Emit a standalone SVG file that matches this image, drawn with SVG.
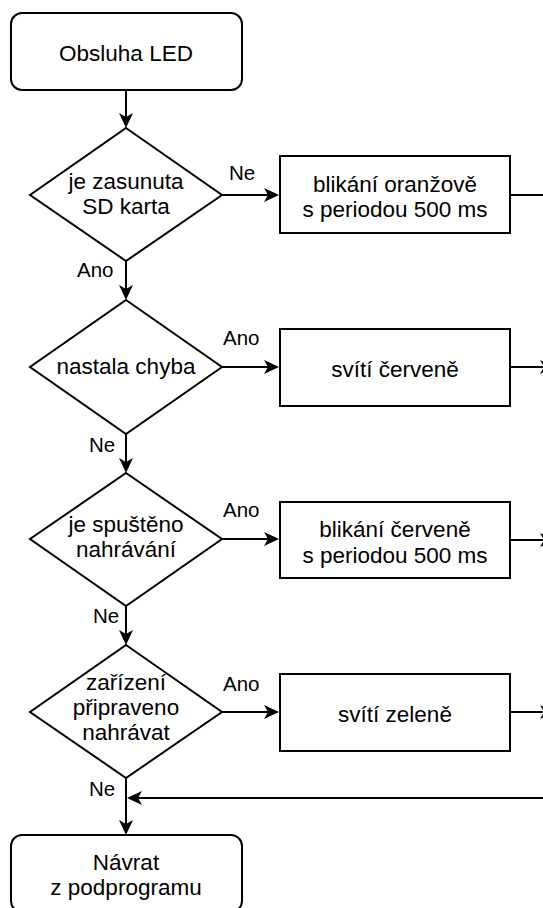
<svg xmlns="http://www.w3.org/2000/svg" width="543" height="908" viewBox="0 0 543 908">
<style>
.shape{fill:#fff;stroke:#000;stroke-width:2}
.t{font-family:"Liberation Sans",Arial,sans-serif;font-size:22.5px;fill:#000;text-anchor:middle}
.lbl{font-family:"Liberation Sans",Arial,sans-serif;font-size:20.5px;fill:#000}
.edge{fill:none;stroke:#000;stroke-width:2}
</style>
<defs>
<marker id="arr" viewBox="0 -8 16 16" refX="4" refY="0" markerWidth="16" markerHeight="16" markerUnits="userSpaceOnUse" orient="auto">
<path d="M15,0 L0,-7 L4,0 L0,7 Z" fill="#000"/>
</marker>
</defs>
<rect width="543" height="908" fill="#fff"/>
<g id="connectors">
<line class="edge" x1="126" y1="90" x2="126" y2="117" marker-end="url(#arr)"/>
<line class="edge" x1="222" y1="195" x2="268" y2="195" marker-end="url(#arr)"/>
<line class="edge" x1="126" y1="261" x2="126" y2="289" marker-end="url(#arr)"/>
<line class="edge" x1="222" y1="367" x2="268" y2="367" marker-end="url(#arr)"/>
<line class="edge" x1="126" y1="434" x2="126" y2="462" marker-end="url(#arr)"/>
<line class="edge" x1="222" y1="539" x2="268" y2="539" marker-end="url(#arr)"/>
<line class="edge" x1="126" y1="606" x2="126" y2="634" marker-end="url(#arr)"/>
<line class="edge" x1="222" y1="712" x2="268" y2="712" marker-end="url(#arr)"/>
<line class="edge" x1="126" y1="778" x2="126" y2="824" marker-end="url(#arr)"/>
<line class="edge" x1="510" y1="195" x2="550" y2="195"/>
<line class="edge" x1="510" y1="367" x2="544" y2="367" marker-end="url(#arr)"/>
<line class="edge" x1="510" y1="540" x2="544" y2="540" marker-end="url(#arr)"/>
<line class="edge" x1="510" y1="712" x2="544" y2="712" marker-end="url(#arr)"/>
<line class="edge" x1="550" y1="798" x2="138" y2="798" marker-end="url(#arr)"/>
<text class="lbl" x="229" y="180">Ne</text>
<text class="lbl" x="77" y="277">Ano</text>
<text class="lbl" x="223" y="345">Ano</text>
<text class="lbl" x="89" y="452">Ne</text>
<text class="lbl" x="223" y="517">Ano</text>
<text class="lbl" x="93" y="623">Ne</text>
<text class="lbl" x="223" y="691">Ano</text>
<text class="lbl" x="89" y="796">Ne</text>
</g>
<g id="start">
<rect class="shape" x="11" y="13" width="231" height="77" rx="11"/>
<text class="t" x="126" y="61">Obsluha LED</text>
</g>
<g id="d1">
<polygon class="shape" points="126,128 222,195 126,261 30,195"/>
<text class="t" x="126" y="189">je zasunuta</text>
<text class="t" x="126" y="214">SD karta</text>
</g>
<g id="b1">
<rect class="shape" x="280" y="156" width="230" height="77"/>
<text class="t" x="395" y="191.5">blikání oranžově</text>
<text class="t" x="395" y="217">s periodou 500 ms</text>
</g>
<g id="d2">
<polygon class="shape" points="126,300 222,367 126,434 30,367"/>
<text class="t" x="126" y="374">nastala chyba</text>
</g>
<g id="b2">
<rect class="shape" x="280" y="329" width="230" height="77"/>
<text class="t" x="395" y="377">svítí červeně</text>
</g>
<g id="d3">
<polygon class="shape" points="126,473 222,539 126,606 30,539"/>
<text class="t" x="126" y="532">je spuštěno</text>
<text class="t" x="126" y="557">nahrávání</text>
</g>
<g id="b3">
<rect class="shape" x="280" y="502" width="230" height="76"/>
<text class="t" x="395" y="537">blikání červeně</text>
<text class="t" x="395" y="562.5">s periodou 500 ms</text>
</g>
<g id="d4">
<polygon class="shape" points="126,645 222,712 126,778 30,712"/>
<text class="t" x="126" y="690">zařízení</text>
<text class="t" x="126" y="715">připraveno</text>
<text class="t" x="126" y="740">nahrávat</text>
</g>
<g id="b4">
<rect class="shape" x="280" y="674" width="230" height="77"/>
<text class="t" x="395" y="722">svítí zeleně</text>
</g>
<g id="end">
<rect class="shape" x="11" y="835" width="231" height="77" rx="11"/>
<text class="t" x="126" y="870">Návrat</text>
<text class="t" x="126" y="895">z podprogramu</text>
</g>
</svg>
